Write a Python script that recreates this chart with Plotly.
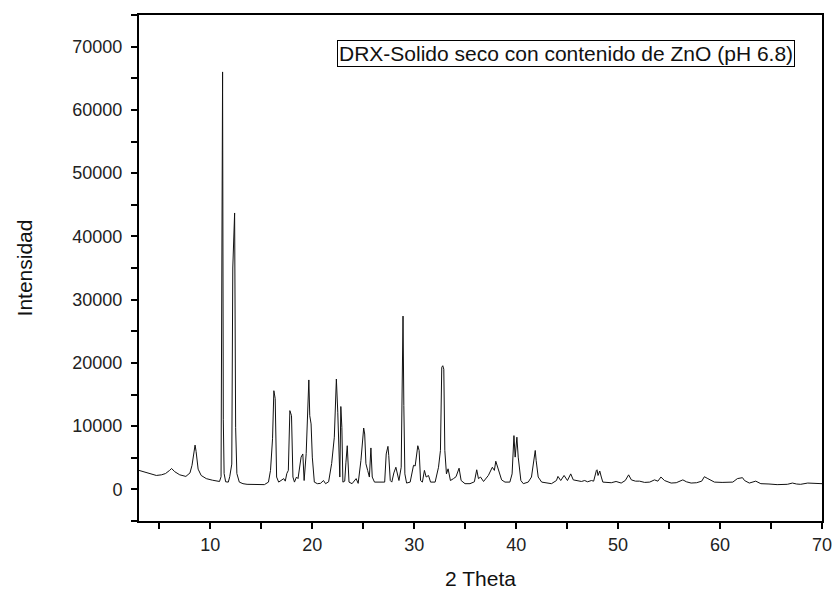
import plotly.graph_objects as go

two_theta = [
    3.0, 3.5, 4.0, 4.7, 5.2, 5.6, 6.0, 6.2, 6.5, 7.0, 7.6, 8.0, 8.2, 8.4, 8.5, 8.6, 8.8, 9.1, 9.6,
    10.2, 10.6, 10.9, 11.05, 11.12, 11.2, 11.27, 11.35, 11.5, 11.76, 11.9, 12.0, 12.1, 12.2, 12.38,
    12.48, 12.6, 12.84, 13.2, 13.6, 14.2, 14.8, 15.3, 15.7, 15.9, 16.1, 16.23, 16.36, 16.5, 16.7,
    17.2, 17.35, 17.5, 17.65, 17.8, 17.96, 18.1, 18.25, 18.45, 18.6, 18.7, 18.9, 19.07, 19.2, 19.4,
    19.56, 19.66, 19.75, 19.88, 20.0, 20.2, 20.5, 20.8, 21.1, 21.3, 21.6, 21.9, 22.16, 22.36, 22.5,
    22.7, 22.8, 22.9, 23.0, 23.18, 23.3, 23.43, 23.6, 23.9, 24.3, 24.5, 24.77, 25.04, 25.14, 25.26,
    25.43, 25.6, 25.75, 25.88, 26.1, 26.5, 26.8, 27.1, 27.25, 27.42, 27.5, 27.65, 27.8, 28.0, 28.2,
    28.33, 28.5, 28.72, 28.82, 28.85, 28.9, 28.98, 29.08, 29.25, 29.6, 29.93, 30.09, 30.35, 30.48,
    30.62, 30.8, 31.0, 31.17, 31.4, 31.6, 32.05, 32.38, 32.57, 32.7, 32.8, 32.9, 33.0, 33.16, 33.32,
    33.55, 33.85, 34.1, 34.4, 34.6, 34.98, 35.47, 35.9, 36.13, 36.3, 36.5, 36.8, 37.0, 37.27, 37.66,
    37.86, 38.0, 38.18, 38.35, 38.57, 38.9, 39.38, 39.6, 39.78, 39.9, 40.07, 40.2, 40.34, 40.46,
    40.7, 41.18, 41.5, 41.7, 41.87, 41.96, 42.16, 42.5, 43.0, 43.46, 43.95, 44.1, 44.37, 44.7,
    45.03, 45.35, 45.6, 45.9, 46.4, 46.72, 47.0, 47.38, 47.6, 47.87, 47.93, 48.03, 48.2, 48.35,
    48.5, 49.33, 49.8, 50.3, 50.7, 51.03, 51.3, 51.7, 52.1, 52.6, 53.1, 53.57, 53.9, 54.2, 54.55,
    55.2, 55.7, 56.35, 56.7, 57.16, 57.7, 58.2, 58.46, 58.8, 59.1, 59.45, 60.2, 60.8, 61.25, 61.7,
    62.2, 62.4, 62.87, 63.5, 64.0, 64.8, 65.6, 66.6, 67.1, 67.5, 67.9, 68.6, 69.07, 69.5, 69.9, 70.0,
]

intensidad = [
    3000, 2800, 2500, 2200, 2300, 2500, 3000, 3300, 2800, 2300, 2050, 2600, 3800, 6500, 7000, 6000, 3200, 2200, 1700,
    1450, 1300, 1250, 2000, 23000, 66000, 11000, 2500, 1200, 1150, 2000, 3500, 4000, 35000, 43700,
    9800, 2500, 1150, 900, 800, 750, 800, 750, 1150, 3000, 8000, 15600, 14350, 1950, 1150,
    1700, 1300, 2500, 3000, 12450, 11650, 1950, 1150, 1950, 1700, 3000, 5100, 5600, 1400, 5650,
    13000, 17300, 11650, 10350, 5100, 1150, 900, 950, 1400, 900, 1200, 4100, 8250, 17450, 12200,
    1950, 13100, 9800, 1150, 1300, 4300, 6900, 1150, 900, 1700, 950, 4550, 9700, 8750, 4050,
    3000, 1950, 6550, 1950, 1150, 1150, 1200, 1150, 5600, 6800, 5350, 1400, 1150, 2600, 3500,
    2450, 1400, 3500, 13000, 19550, 27400, 13250, 2450, 1000, 1150, 3800, 3700, 6900, 6150,
    1400, 1150, 3000, 1950, 2200, 1150, 1150, 3500, 6150, 19300, 19550, 19000, 6150, 2450, 3250,
    1400, 1700, 2000, 3350, 1400, 900, 900, 1200, 3100, 1700, 1950, 1250, 1600, 2200, 3500,
    3000, 4450, 3500, 2750, 1500, 1150, 1150, 2450, 8500, 5100, 8250, 5100, 3250, 1400,
    900, 1150, 1950, 4550, 6150, 4550, 1950, 1150, 1000, 900, 1400, 2050, 1400, 2200,
    1400, 2450, 1500, 1400, 1250, 1400, 1200, 1400, 1300, 3000, 3100, 2200, 2900, 1950,
    1150, 1050, 1250, 1000, 1400, 2300, 1500, 1300, 1300, 1100, 1150, 1500, 1300, 1950, 1400,
    1000, 1050, 1500, 1200, 1000, 1050, 1300, 2000, 1700, 1400, 1150, 1100, 1150, 1150, 1700,
    1850, 1400, 1000, 1300, 900, 850, 750, 800, 1000, 850, 800, 1000, 1000, 900, 900, 900,
]

x_ticks = [10, 20, 30, 40, 50, 60, 70]
y_ticks = [0, 10000, 20000, 30000, 40000, 50000, 60000, 70000]
legend_text = "DRX-Solido seco con contenido de ZnO (pH 6.8)"

FONT = "Arial, Liberation Sans, sans-serif"

fig = go.Figure()
fig.add_trace(go.Scatter(
    x=two_theta, y=intensidad, mode="lines",
    line=dict(color="#111111", width=1),
    showlegend=False,
))

axis_common = dict(
    showline=True, linecolor="black", linewidth=2, mirror=True,
    showgrid=False, zeroline=False,
    ticks="outside", ticklen=6, tickwidth=2, tickcolor="black",
    tickfont=dict(family=FONT, size=18, color="#222222"),
)

fig.update_xaxes(
    range=[3, 70], tickvals=x_ticks, ticktext=[str(v) for v in x_ticks],
    minor=dict(ticks="outside", ticklen=6, tickwidth=2, tickcolor="black", dtick=5, tick0=0),
    title=dict(text="2 Theta", font=dict(family=FONT, size=21, color="#111111"), standoff=18),
    **axis_common,
)
fig.update_yaxes(
    range=[-5000, 75000], tickvals=y_ticks, ticktext=[str(v) for v in y_ticks],
    minor=dict(ticks="outside", ticklen=6, tickwidth=2, tickcolor="black", dtick=5000, tick0=0),
    title=dict(text="Intensidad", font=dict(family=FONT, size=21, color="#111111"), standoff=34),
    ticklabelstandoff=5,
    **axis_common,
)

fig.add_annotation(
    xref="paper", yref="paper", x=0.9605, y=0.9506,
    xanchor="right", yanchor="top",
    text=legend_text, showarrow=False,
    font=dict(family=FONT, size=21, color="#111111"),
    bordercolor="black", borderwidth=1, borderpad=1, bgcolor="white",
)

fig.update_layout(
    width=835, height=595,
    margin=dict(l=139, r=13, t=15, b=74, autoexpand=False),
    paper_bgcolor="white", plot_bgcolor="white",
    font=dict(family=FONT),
)

fig.write_html("out.html")
